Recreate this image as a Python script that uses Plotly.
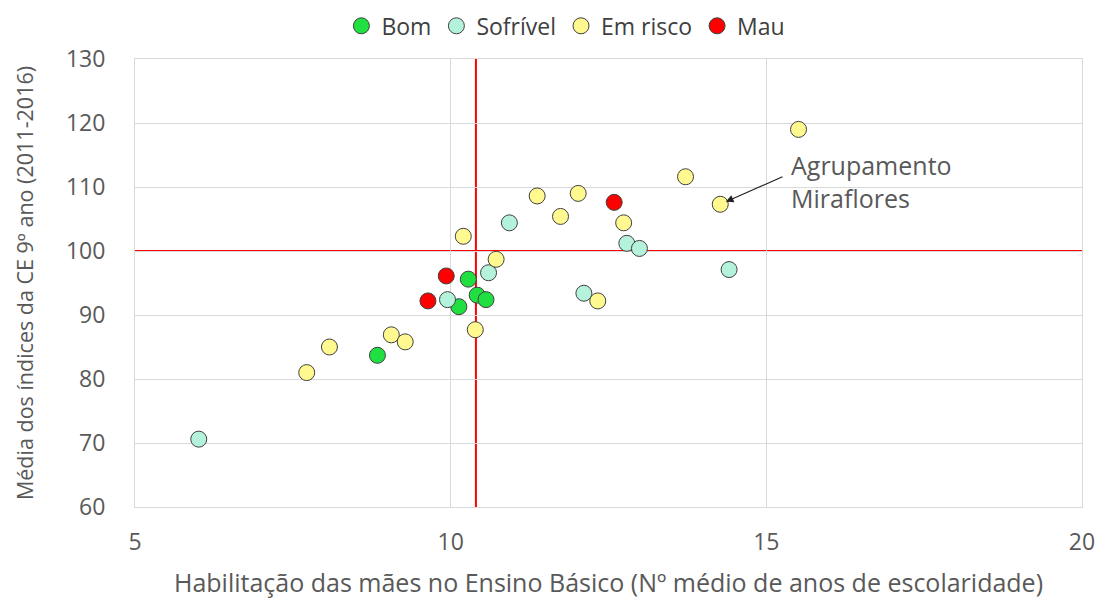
import plotly.graph_objects as go

# Habilitação das mães (anos) e média dos índices CE 9º ano, por grupo
bom_x = [8.84, 10.28, 10.42, 10.56, 10.13]
bom_y = [83.7, 95.6, 93.1, 92.4, 91.3]

sofrivel_x = [6.01, 9.95, 10.60, 10.93, 12.11, 12.79, 12.99, 14.41]
sofrivel_y = [70.6, 92.4, 96.6, 104.4, 93.4, 101.2, 100.4, 97.1]

risco_x = [7.72, 8.08, 9.06, 9.28, 10.39, 10.20, 10.72, 11.37, 11.74, 12.02,
           12.33, 12.74, 13.72, 14.27, 15.51]
risco_y = [81.0, 85.0, 86.9, 85.8, 87.7, 102.3, 98.7, 108.6, 105.4, 109.0,
           92.2, 104.4, 111.6, 107.3, 119.0]

mau_x = [9.64, 9.93, 12.59]
mau_y = [92.2, 96.1, 107.6]

media_x = 10.40
media_y = 100

destaque_x = 14.27
destaque_y = 107.3

font = "Open Sans"
grey = "#595959"

fig = go.Figure()

series = [
    ("Bom", bom_x, bom_y, "#1FE040"),
    ("Sofrível", sofrivel_x, sofrivel_y, "#B5F2DC"),
    ("Em risco", risco_x, risco_y, "#FFF98F"),
    ("Mau", mau_x, mau_y, "#FF0000"),
]
for name, xs, ys, col in series:
    fig.add_trace(go.Scatter(
        x=xs, y=ys, mode="markers", name=name,
        marker=dict(size=16, color=col, line=dict(color="#404040", width=1)),
    ))

fig.add_shape(type="line", xref="x", yref="y", x0=media_x, x1=media_x, y0=60, y1=130,
              line=dict(color="#FF0000", width=2), layer="below")
fig.add_shape(type="line", xref="x", yref="y", x0=5, x1=20, y0=media_y, y1=media_y,
              line=dict(color="#FF0000", width=2), layer="below")

fig.add_annotation(
    x=destaque_x, y=destaque_y, ax=15.28, ay=111.7, axref="x", ayref="y",
    text="", showarrow=True, arrowhead=2, arrowsize=1.3, arrowwidth=1.2,
    arrowcolor="#222222", standoff=6,
)
fig.add_annotation(
    x=15.36, y=110.9, xref="x", yref="y", xanchor="left", yanchor="middle",
    text="Agrupamento<br>Miraflores", showarrow=False, align="left",
    font=dict(family=font, size=25, color=grey),
)

# the page body has an 8px margin, so the figure is a bit smaller
fig.update_layout(
    width=1096, height=594,
    paper_bgcolor="white", plot_bgcolor="white",
    margin=dict(l=127, r=22, t=51, b=95, autoexpand=False),
    font=dict(family=font, color=grey),
    legend=dict(orientation="h", x=0.455, xanchor="center", y=1.074, yanchor="middle",
                font=dict(family=font, size=23, color="#404040"),
                itemwidth=30, tracegroupgap=0),
    showlegend=True,
)
fig.update_xaxes(
    range=[5, 20], dtick=5, showgrid=True, gridcolor="#D9D9D9", gridwidth=1,
    zeroline=False, showline=True, mirror=True, linecolor="#D9D9D9",
    ticks="", ticklabelstandoff=14, tickfont=dict(size=23, color=grey),
    title=dict(text="Habilitação das mães no Ensino Básico (Nº médio de anos de escolaridade)",
               font=dict(size=25, color=grey), standoff=18),
)
fig.update_yaxes(
    range=[60, 130], dtick=10, showgrid=True, gridcolor="#D9D9D9", gridwidth=1,
    zeroline=False, showline=True, mirror=True, linecolor="#D9D9D9",
    ticks="", ticklabelstandoff=24, tickfont=dict(size=23, color=grey),
    title=dict(text="Média dos índices da CE 9º ano (2011-2016)",
               font=dict(size=21.5, color=grey), standoff=26),
)

fig.write_html("out.html")
